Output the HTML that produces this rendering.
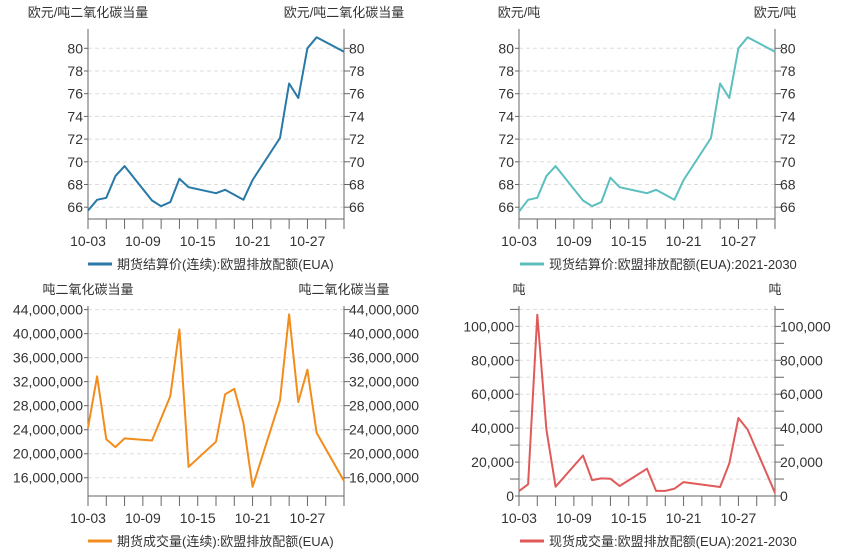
<!DOCTYPE html>
<html><head><meta charset="utf-8">
<style>
html,body{margin:0;padding:0;background:#fff;}
svg{display:block;font-family:"Liberation Sans","Noto Sans CJK SC",sans-serif;}
</style></head>
<body>
<svg id="root" width="841" height="552" viewBox="0 0 841 552"></svg>
<script>
// day offsets from 10-03
const futPriceDays = [0,1,2,3,4,7,8,9,10,11,14,15,17,18,21,22,23,24,25,28];
const futPriceVals = [65.7,66.65,66.83,68.74,69.62,66.59,66.09,66.45,68.5,67.76,67.23,67.53,66.65,68.4,72.1,76.9,75.62,80.0,80.97,79.7];
const spotPriceDays = [0,1,2,3,4,7,8,9,10,11,14,15,17,18,21,22,23,24,25,28];
const spotPriceVals = [65.6,66.65,66.83,68.74,69.62,66.59,66.09,66.45,68.6,67.76,67.23,67.53,66.65,68.4,72.1,76.9,75.62,80.0,80.97,79.7];
const futVolDays = [0,1,2,3,4,7,9,10,11,14,15,16,17,18,21,22,23,24,25,28];
const futVolVals = [24300000,32900000,22400000,21100000,22550000,22200000,29600000,40700000,17800000,22000000,29900000,30800000,25150000,14500000,28900000,43200000,28600000,34000000,23500000,15450000];
const spotVolDays = [0,1,2,3,4,7,8,9,10,11,14,15,16,17,18,22,23,24,25,28];
const spotVolVals = [2900,6900,106900,39200,5500,23900,9400,10400,10200,5900,16100,3000,3000,4300,8200,5300,19200,46000,39200,1900];
const xTickLabels = ["10-03","10-09","10-15","10-21","10-27"];
const priceTicks = [66,68,70,72,74,76,78,80];
const futVolTicks = [16000000,20000000,24000000,28000000,32000000,36000000,40000000,44000000];
const spotVolTicks = [0,20000,40000,60000,80000,100000];

const NS="http://www.w3.org/2000/svg";
const root=document.getElementById('root');
function mk(tag,attrs,parent){const e=document.createElementNS(NS,tag);for(const k in attrs)e.setAttribute(k,attrs[k]);(parent||root).appendChild(e);return e;}
function fmt(v){return v.toLocaleString('en-US');}

function chart(o){
  const g=mk('g',{});
  
  
  const L=o.x0,R=o.x0+256,T=o.top,B=o.top+190;
  const xs=d=>L+d*(R-L)/28;
  const ys=v=>B-(v-o.min)/(o.max-o.min)*(B-T);
  // grid
  o.grid.forEach(v=>{const ln=mk('line',{x1:L,x2:R,y1:ys(v),y2:ys(v),stroke:'#ddd','stroke-dasharray':'4,3'},g);
    
    });
  // axes
  const ax=mk('path',{d:`M${L},${T}V${B}H${R}V${T}`,stroke:'#666',fill:'none','stroke-width':1},g);
  
  
  for(let d=0;d<=28;d+=2){mk('line',{x1:xs(d),x2:xs(d),y1:B,y2:B+10,stroke:'#666'},g);}
  xTickLabels.forEach((t,i)=>{const tx=mk('text',{x:xs(i*6),y:B+27,'text-anchor':'middle','font-size':14,fill:'#333'},g);tx.textContent=t;
    
    });
  o.minor.forEach(v=>{mk('line',{x1:L-9,x2:L,y1:ys(v),y2:ys(v),stroke:'#666'},g);mk('line',{x1:R,x2:R+9,y1:ys(v),y2:ys(v),stroke:'#666'},g);});
  o.ticks.forEach(v=>{
    mk('line',{x1:L-4,x2:L,y1:ys(v),y2:ys(v),stroke:'#666'},g);
    mk('line',{x1:R,x2:R+6,y1:ys(v),y2:ys(v),stroke:'#666'},g);
    const a=mk('text',{x:L-5,y:ys(v)+5,'text-anchor':'end','font-size':14,fill:'#333'},g);a.textContent=fmt(v);
    
    
    const b=mk('text',{x:R+5,y:ys(v)+5,'text-anchor':'start','font-size':14,fill:'#333'},g);b.textContent=fmt(v);
    
    
  });
  const t1=mk('text',{x:o.unitL,y:o.top-12,'text-anchor':'middle','font-size':13,fill:'#333'},g);t1.textContent=o.unit;
  
  
  const t2=mk('text',{x:o.unitR,y:o.top-12,'text-anchor':'middle','font-size':13,fill:'#333'},g);t2.textContent=o.unit;
  
  
  const pts=o.days.map((d,i)=>xs(d).toFixed(1)+','+ys(o.vals[i]).toFixed(1)).join(' ');
  const pl=mk('polyline',{points:pts,fill:'none',stroke:o.color,'stroke-width':2,'stroke-linejoin':'round'},g);
  
  
  const lg=mk('g',{},g);
  
  
  mk('line',{x1:o.legX,x2:o.legX+24,y1:B+45,y2:B+45,stroke:o.color,'stroke-width':3},lg);
  const lt=mk('text',{x:o.legX+29,y:B+50,'font-size':13,fill:'#333'},lg);lt.textContent=o.legend;
}
chart({name:'futures-price-chart',x0:88,top:29,min:64.96,max:81.7,ticks:priceTicks,grid:priceTicks,minor:[],days:futPriceDays,vals:futPriceVals,color:'#2878a8',unit:'欧元/吨二氧化碳当量',unitL:88,unitR:344,legX:88,legend:'期货结算价(连续):欧盟排放配额(EUA)'});
chart({name:'spot-price-chart',x0:519,top:29,min:64.96,max:81.7,ticks:priceTicks,grid:priceTicks,minor:[],days:spotPriceDays,vals:spotPriceVals,color:'#5bbfbf',unit:'欧元/吨',unitL:519,unitR:775,legX:520,legend:'现货结算价:欧盟排放配额(EUA):2021-2030'});
chart({name:'futures-volume-chart',x0:88,top:306,min:12960000,max:44600000,ticks:futVolTicks,grid:futVolTicks,minor:[],days:futVolDays,vals:futVolVals,color:'#f28c1c',unit:'吨二氧化碳当量',unitL:88,unitR:344,legX:88,legend:'期货成交量(连续):欧盟排放配额(EUA)'});
chart({name:'spot-volume-chart',x0:519,top:306,min:0,max:112000,ticks:spotVolTicks,grid:[10000,20000,30000,40000,50000,60000,70000,80000,90000,100000,110000],minor:[10000,30000,50000,70000,90000,110000],days:spotVolDays,vals:spotVolVals,color:'#e05a5a',unit:'吨',unitL:519,unitR:775,legX:520,legend:'现货成交量:欧盟排放配额(EUA):2021-2030'});
</script>
</body></html>
